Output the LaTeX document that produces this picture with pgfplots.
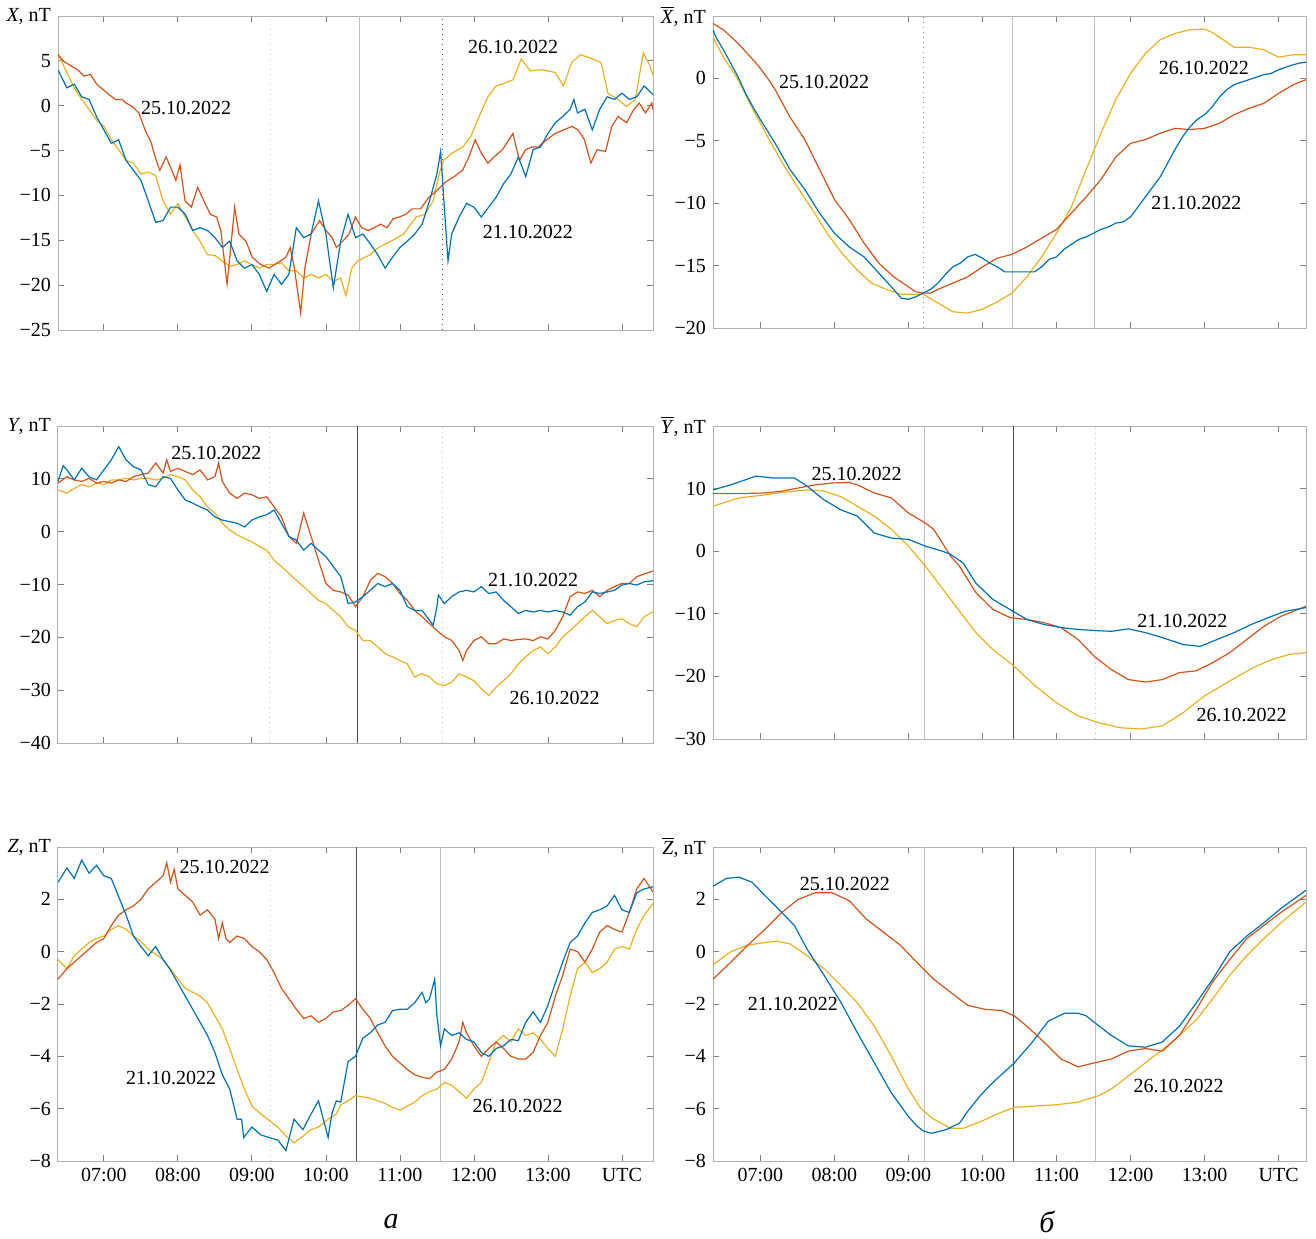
\documentclass[border=0pt]{standalone}
\usepackage{fontspec}
\setmainfont{Liberation Serif}
\usepackage{pgfplots}
\pgfplotsset{compat=1.18}
\definecolor{cB}{rgb}{0,0.447,0.741}
\definecolor{cO}{rgb}{0.85,0.325,0.098}
\definecolor{cY}{rgb}{0.929,0.694,0.125}
\pgfplotsset{
  base/.style={
    scale only axis,
    xtick={7,8,9,10,11,12,13,14},
    xticklabels=\empty,
    tick align=inside,
    major tick length=3pt,
    axis line style={draw=black!30, line width=0.5pt},
    tick style={draw=black!50, line width=0.4pt},
    ticklabel style={font=\fontsize{10}{12}\selectfont, text=black},
    clip=true,
  },
  L/.style={base, xmin=6.38, xmax=14.42, width=297.5pt},
  R/.style={base, xmin=6.36, xmax=14.37, width=296.5pt},
  lastrow/.style={xticklabels={07:00,08:00,09:00,10:00,11:00,12:00,13:00,UTC}},
  dat/.style={line width=0.6pt},
  vl/.style={line width=0.5pt, black!25},
  vd/.style={line width=0.5pt, black!70},
}
\newcommand{\ann}{\fontsize{10}{12}\selectfont}
\newcommand{\ob}[1]{\ensuremath{\overline{\mbox{\textit{#1}}}}}
\begin{document}
\begin{tikzpicture}
%================ LEFT X =================
\begin{axis}[L, at={(29pt,-165pt)}, anchor=south west, height=157pt,
  ymin=-25, ymax=10, ytick={-25,-20,...,10},
  yticklabels={−25,−20,−15,−10,−5,0,5,{\textit{X}, nT}}]
\addplot[vl, dotted] coordinates {(9.25,-25) (9.25,10)};
\addplot[vl] coordinates {(10.45,-25) (10.45,10)};
\addplot[vd, dotted] coordinates {(11.58,-25) (11.58,10)};
\addplot[dat, cY] coordinates {(6.38,5.8) (6.5,3.7) (6.6,2.0) (6.7,0.7) (6.8,-0.4) (6.9,-1.6) (7.0,-2.3) (7.1,-3.8) (7.2,-4.9) (7.3,-6.1) (7.4,-6.4) (7.5,-7.6) (7.6,-7.4) (7.7,-7.8) (7.8,-10.6) (7.9,-12.1) (8.0,-10.9) (8.1,-12.4) (8.2,-13.9) (8.3,-15.1) (8.4,-16.6) (8.5,-16.7) (8.6,-17.3) (8.7,-17.9) (8.8,-17.7) (8.9,-17.3) (9.0,-17.7) (9.1,-18.1) (9.2,-17.7) (9.3,-17.7) (9.4,-17.5) (9.5,-18.4) (9.6,-18.4) (9.7,-19.2) (9.8,-18.8) (9.9,-19.2) (10.0,-18.8) (10.1,-19.6) (10.2,-19.2) (10.27,-21.2) (10.35,-18.1) (10.43,-17.3) (10.60,-16.6) (10.71,-15.8) (10.88,-15.1) (11.05,-14.3) (11.22,-12.4) (11.34,-12.1) (11.45,-10.6) (11.53,-7.6) (11.59,-6.1) (11.70,-5.3) (11.85,-4.6) (11.96,-3.4) (12.07,-1.2) (12.19,1.0) (12.30,2.2) (12.41,2.5) (12.53,2.9) (12.64,5.2) (12.76,3.9) (12.93,4.0) (13.10,3.7) (13.21,2.2) (13.32,4.8) (13.44,5.7) (13.61,5.2) (13.72,4.8) (13.81,1.4) (13.95,0.7) (14.06,-0.1) (14.18,0.7) (14.29,5.9) (14.38,4.4) (14.46,2.5)};
\addplot[dat, cO] coordinates {(6.381,5.7) (6.449,5.0) (6.563,4.4) (6.648,4.0) (6.733,3.3) (6.818,3.5) (6.903,2.4) (6.989,1.8) (7.074,1.2) (7.159,0.7) (7.244,0.7) (7.301,0.3) (7.386,-0.1) (7.472,-0.8) (7.557,-2.7) (7.642,-4.2) (7.699,-5.9) (7.756,-7.2) (7.841,-5.7) (7.898,-6.8) (7.972,-8.3) (8.028,-6.6) (8.097,-10.6) (8.182,-11.3) (8.267,-9.1) (8.352,-10.6) (8.438,-12.1) (8.523,-12.4) (8.580,-13.9) (8.665,-19.9) (8.722,-15.1) (8.767,-11.3) (8.824,-14.3) (8.920,-15.1) (9.006,-16.9) (9.119,-17.7) (9.233,-18.1) (9.347,-17.5) (9.460,-16.9) (9.517,-15.8) (9.574,-18.1) (9.659,-23.1) (9.716,-18.1) (9.801,-14.3) (9.915,-12.8) (10.000,-13.9) (10.085,-14.7) (10.142,-15.8) (10.227,-15.1) (10.313,-14.3) (10.398,-12.4) (10.483,-13.6) (10.568,-13.9) (10.653,-13.6) (10.739,-13.2) (10.824,-13.6) (10.909,-12.6) (10.994,-12.4) (11.080,-12.1) (11.165,-11.5) (11.278,-11.5) (11.392,-10.2) (11.506,-9.4) (11.619,-8.5) (11.733,-7.9) (11.847,-7.2) (11.932,-5.7) (12.017,-3.8) (12.102,-5.3) (12.188,-6.4) (12.273,-5.7) (12.386,-4.9) (12.472,-3.8) (12.528,-3.1) (12.614,-6.1) (12.699,-4.9) (12.784,-4.6) (12.869,-4.6) (12.983,-3.8) (13.097,-3.1) (13.210,-2.7) (13.324,-2.3) (13.409,-2.7) (13.494,-3.8) (13.580,-6.4) (13.665,-4.9) (13.778,-5.1) (13.864,-2.3) (13.949,-1.2) (14.063,-1.9) (14.148,-0.6) (14.233,0.3) (14.318,-0.8) (14.403,0.3) (14.460,-1.9)};
\addplot[dat, cB] coordinates {(6.38,4.0) (6.5,2.0) (6.6,2.4) (6.7,1.0) (6.8,0.7) (6.9,-1.2) (7.0,-2.7) (7.1,-4.2) (7.2,-3.8) (7.3,-6.1) (7.4,-7.2) (7.5,-8.3) (7.6,-10.6) (7.7,-13.0) (7.8,-12.8) (7.9,-11.3) (8.0,-11.3) (8.1,-12.1) (8.2,-13.9) (8.3,-13.6) (8.4,-13.9) (8.5,-14.7) (8.6,-15.8) (8.7,-15.1) (8.8,-17.3) (8.9,-18.1) (9.0,-17.7) (9.1,-18.8) (9.2,-20.7) (9.3,-18.8) (9.4,-19.9) (9.5,-18.8) (9.6,-13.6) (9.7,-14.7) (9.8,-14.3) (9.9,-10.6) (10.0,-14.3) (10.1,-20.3) (10.2,-15.1) (10.3,-12.1) (10.4,-14.7) (10.5,-14.3) (10.6,-15.4) (10.7,-16.6) (10.8,-18.1) (10.9,-16.9) (11.0,-15.8) (11.1,-15.1) (11.2,-14.3) (11.3,-13.2) (11.4,-10.6) (11.5,-7.6) (11.55,-5.1) (11.6,-11.3) (11.65,-17.3) (11.7,-14.3) (11.8,-12.4) (11.9,-10.9) (12.0,-11.3) (12.1,-12.4) (12.2,-11.3) (12.3,-10.2) (12.4,-8.7) (12.5,-7.6) (12.6,-5.7) (12.7,-7.9) (12.8,-4.9) (12.9,-4.6) (13.0,-3.1) (13.1,-1.9) (13.2,-1.2) (13.3,-0.4) (13.35,0.7) (13.4,-0.8) (13.5,-0.4) (13.6,-2.7) (13.7,-0.4) (13.8,1.0) (13.9,0.7) (14.0,1.4) (14.1,0.7) (14.2,1.0) (14.3,2.2) (14.4,1.4) (14.45,1.0)};
\node[font=\ann] at (axis cs:8.11,-0.26) {25.10.2022};
\node[font=\ann] at (axis cs:12.53,6.5) {26.10.2022};
\node[font=\ann] at (axis cs:12.73,-14.1) {21.10.2022};
\end{axis}
%================ LEFT Y =================
\begin{axis}[L, at={(29pt,-371.5pt)}, anchor=south west, height=158.5pt,
  ymin=-40, ymax=20, ytick={-40,-30,...,20},
  yticklabels={−40,−30,−20,−10,0,10,{\textit{Y}, nT}}]
\addplot[vl, dotted] coordinates {(9.24,-40) (9.24,20)};
\addplot[vd] coordinates {(10.43,-40) (10.43,20)};
\addplot[vl, dotted] coordinates {(11.57,-40) (11.57,20)};
\addplot[dat, cY] coordinates {(6.38,7.9) (6.5,7.3) (6.6,8.2) (6.7,8.9) (6.8,8.5) (6.9,9.2) (7.0,8.9) (7.1,9.8) (7.2,9.8) (7.3,10.1) (7.4,9.8) (7.5,10.1) (7.6,10.1) (7.7,9.8) (7.8,10.1) (7.9,10.8) (8.0,10.4) (8.1,9.8) (8.2,7.9) (8.3,6.6) (8.4,4.7) (8.5,3.5) (8.6,1.6) (8.7,0.3) (8.8,-0.6) (8.9,-1.3) (9.0,-1.9) (9.1,-2.8) (9.2,-3.5) (9.3,-5.4) (9.4,-6.6) (9.5,-7.9) (9.6,-9.2) (9.7,-10.4) (9.8,-11.7) (9.9,-13.0) (10.0,-13.6) (10.1,-14.9) (10.2,-16.1) (10.3,-18.0) (10.4,-18.7) (10.5,-20.6) (10.6,-20.6) (10.7,-21.8) (10.8,-23.1) (10.9,-23.7) (11.0,-24.4) (11.1,-25.0) (11.2,-27.5) (11.3,-26.9) (11.4,-27.5) (11.5,-28.8) (11.6,-29.1) (11.7,-28.5) (11.8,-26.9) (11.9,-27.5) (12.0,-28.2) (12.1,-29.7) (12.2,-31.0) (12.3,-29.4) (12.4,-28.2) (12.5,-26.9) (12.6,-25.0) (12.7,-23.7) (12.8,-22.5) (12.9,-21.8) (13.0,-23.1) (13.1,-21.8) (13.2,-19.9) (13.3,-18.7) (13.4,-17.4) (13.5,-16.1) (13.6,-14.9) (13.7,-16.1) (13.8,-17.4) (13.9,-16.8) (14.0,-16.5) (14.1,-17.4) (14.2,-18.0) (14.3,-16.1) (14.45,-14.9)};
\addplot[dat, cO] coordinates {(6.38,9.2) (6.5,10.4) (6.6,9.8) (6.7,9.5) (6.8,10.1) (6.9,9.2) (7.0,9.5) (7.1,9.2) (7.2,9.8) (7.3,9.5) (7.4,10.4) (7.5,10.8) (7.6,11.1) (7.7,13.0) (7.8,11.1) (7.85,13.6) (7.9,11.4) (8.0,12.0) (8.1,11.4) (8.2,10.8) (8.3,11.7) (8.4,9.8) (8.5,10.4) (8.55,13.0) (8.6,9.5) (8.7,7.3) (8.8,6.3) (8.9,7.3) (9.0,7.0) (9.1,6.3) (9.2,6.6) (9.3,4.7) (9.4,2.8) (9.5,-0.9) (9.6,-2.2) (9.7,3.5) (9.8,-0.9) (9.9,-5.4) (10.0,-9.8) (10.1,-11.1) (10.2,-11.4) (10.3,-12.0) (10.4,-14.2) (10.5,-12.3) (10.6,-9.2) (10.7,-7.9) (10.8,-8.5) (10.9,-9.8) (11.0,-11.7) (11.1,-13.0) (11.2,-14.9) (11.3,-16.1) (11.4,-17.4) (11.5,-18.7) (11.6,-19.9) (11.7,-20.6) (11.8,-22.5) (11.85,-24.4) (11.9,-22.5) (12.0,-20.6) (12.1,-19.9) (12.2,-21.2) (12.3,-21.2) (12.4,-20.3) (12.5,-20.6) (12.6,-20.4) (12.7,-20.3) (12.8,-20.6) (12.9,-19.9) (13.0,-20.3) (13.1,-18.7) (13.2,-16.1) (13.3,-12.3) (13.4,-11.4) (13.5,-11.7) (13.6,-11.1) (13.7,-12.3) (13.8,-11.1) (13.9,-10.4) (14.0,-9.8) (14.1,-9.8) (14.2,-8.5) (14.45,-7.3)};
\addplot[dat, cB] coordinates {(6.38,9.5) (6.45,12.5) (6.5,11.7) (6.6,9.8) (6.7,12.0) (6.8,10.4) (6.9,9.8) (7.0,11.7) (7.1,13.6) (7.2,16.1) (7.3,13.6) (7.4,12.3) (7.5,11.7) (7.6,8.9) (7.7,8.5) (7.8,10.4) (7.9,10.1) (8.0,7.9) (8.1,6.0) (8.2,5.4) (8.3,4.7) (8.4,4.1) (8.5,2.8) (8.6,2.2) (8.7,1.9) (8.8,1.6) (8.9,0.9) (9.0,2.2) (9.1,2.8) (9.2,3.2) (9.3,4.1) (9.4,1.6) (9.5,-0.9) (9.6,-1.6) (9.7,-3.5) (9.8,-2.2) (9.9,-3.5) (10.0,-4.7) (10.1,-6.6) (10.2,-8.5) (10.3,-13.6) (10.4,-13.3) (10.5,-12.3) (10.6,-11.1) (10.7,-9.8) (10.8,-10.4) (10.9,-9.8) (11.0,-11.1) (11.1,-14.2) (11.2,-14.9) (11.3,-14.9) (11.4,-16.8) (11.45,-17.7) (11.5,-14.2) (11.52,-12.0) (11.6,-13.6) (11.7,-12.3) (11.8,-11.4) (11.9,-11.1) (12.0,-11.4) (12.1,-10.4) (12.2,-11.7) (12.3,-11.4) (12.4,-13.0) (12.5,-14.2) (12.6,-15.5) (12.7,-14.9) (12.8,-15.2) (12.9,-14.9) (13.0,-15.2) (13.1,-14.9) (13.2,-15.2) (13.3,-15.8) (13.4,-14.2) (13.5,-13.3) (13.6,-11.4) (13.7,-11.7) (13.8,-11.4) (13.9,-11.1) (14.0,-10.1) (14.1,-9.8) (14.2,-10.1) (14.3,-9.5) (14.45,-9.2)};
\node[font=\ann] at (axis cs:8.52,14.9) {25.10.2022};
\node[font=\ann] at (axis cs:12.8,-9.05) {21.10.2022};
\node[font=\ann] at (axis cs:13.09,-31.5) {26.10.2022};
\end{axis}
%================ LEFT Z =================
\begin{axis}[L, lastrow, at={(29pt,-580.5pt)}, anchor=south west, height=157pt,
  ymin=-8, ymax=4, ytick={-8,-6,...,4},
  yticklabels={−8,−6,−4,−2,0,2,{\textit{Z}, nT}}]
\addplot[vl, dotted] coordinates {(9.25,-8) (9.25,4)};
\addplot[vd] coordinates {(10.41,-8) (10.41,4)};
\addplot[vl] coordinates {(11.55,-8) (11.55,4)};
\addplot[dat, cY] coordinates {(6.38,-0.3) (6.5,-0.65) (6.6,-0.15) (6.7,0.1) (6.8,0.35) (6.9,0.5) (7.0,0.6) (7.1,0.85) (7.2,1.0) (7.3,0.85) (7.4,0.6) (7.5,0.4) (7.6,0.1) (7.7,-0.1) (7.8,-0.3) (7.9,-0.65) (8.0,-1.05) (8.1,-1.4) (8.2,-1.55) (8.3,-1.7) (8.4,-1.95) (8.5,-2.45) (8.6,-2.95) (8.7,-3.7) (8.8,-4.5) (8.9,-5.25) (9.0,-5.9) (9.12,-6.2) (9.35,-6.7) (9.46,-7.05) (9.57,-7.3) (9.69,-7.05) (9.8,-6.8) (9.9,-6.7) (10.03,-6.4) (10.14,-6.2) (10.2,-5.85) (10.3,-5.7) (10.4,-5.5) (10.5,-5.55) (10.6,-5.6) (10.7,-5.7) (10.8,-5.8) (10.9,-5.95) (11.0,-6.05) (11.1,-5.9) (11.2,-5.75) (11.3,-5.5) (11.4,-5.35) (11.5,-5.25) (11.6,-5.0) (11.7,-5.1) (11.8,-5.35) (11.9,-5.6) (12.0,-5.25) (12.1,-5.0) (12.2,-4.25) (12.3,-3.45) (12.4,-3.2) (12.5,-3.45) (12.6,-2.95) (12.7,-3.2) (12.8,-3.1) (12.9,-3.35) (13.0,-3.7) (13.1,-4.0) (13.2,-2.95) (13.3,-1.7) (13.4,-0.65) (13.5,-0.4) (13.6,-0.8) (13.7,-0.65) (13.8,-0.4) (13.9,0.1) (14.0,0.2) (14.1,0.1) (14.2,0.85) (14.3,1.4) (14.45,1.95)};
\addplot[dat, cO] coordinates {(6.38,-1.05) (6.5,-0.65) (6.6,-0.4) (6.7,-0.15) (6.8,0.1) (6.9,0.35) (7.0,0.5) (7.1,1.0) (7.2,1.4) (7.3,1.6) (7.4,1.75) (7.5,2.0) (7.6,2.4) (7.7,2.65) (7.8,2.9) (7.85,3.4) (7.9,2.65) (7.95,3.15) (8.0,2.4) (8.1,2.15) (8.2,1.9) (8.3,1.4) (8.4,1.6) (8.5,1.25) (8.55,0.5) (8.6,1.1) (8.65,0.5) (8.7,0.35) (8.8,0.6) (8.9,0.5) (9.0,0.2) (9.1,0.0) (9.2,-0.3) (9.3,-0.8) (9.4,-1.4) (9.5,-1.8) (9.6,-2.2) (9.7,-2.55) (9.8,-2.45) (9.9,-2.7) (10.0,-2.55) (10.1,-2.3) (10.2,-2.25) (10.3,-2.05) (10.4,-1.8) (10.5,-2.2) (10.6,-2.55) (10.7,-3.1) (10.8,-3.6) (10.9,-4.0) (11.0,-4.25) (11.1,-4.5) (11.2,-4.7) (11.3,-4.8) (11.4,-4.85) (11.5,-4.6) (11.6,-4.5) (11.7,-4.1) (11.8,-3.45) (11.85,-2.7) (11.9,-3.1) (12.0,-3.6) (12.1,-4.0) (12.2,-3.7) (12.3,-3.45) (12.4,-3.7) (12.5,-4.0) (12.6,-4.1) (12.7,-4.1) (12.8,-3.85) (12.9,-3.2) (13.0,-2.7) (13.1,-1.7) (13.2,-0.9) (13.3,0.1) (13.4,0.0) (13.5,-0.4) (13.6,0.1) (13.7,0.75) (13.8,1.0) (13.9,0.85) (14.0,0.75) (14.1,1.5) (14.2,2.4) (14.3,2.8) (14.45,2.15)};
\addplot[dat, cB] coordinates {(6.38,2.65) (6.5,3.2) (6.6,2.8) (6.7,3.5) (6.8,3.0) (6.9,3.3) (7.0,2.9) (7.1,2.8) (7.2,2.1) (7.3,1.4) (7.4,0.6) (7.5,0.2) (7.6,-0.15) (7.7,0.2) (7.8,-0.3) (7.9,-0.7) (8.0,-1.2) (8.1,-1.7) (8.2,-2.2) (8.3,-2.7) (8.4,-3.2) (8.5,-3.85) (8.6,-4.7) (8.7,-5.25) (8.8,-6.4) (8.86,-6.4) (8.89,-7.1) (9.0,-6.7) (9.12,-7.0) (9.23,-7.1) (9.35,-7.2) (9.46,-7.6) (9.57,-6.4) (9.69,-6.8) (9.8,-6.2) (9.9,-5.7) (10.03,-7.1) (10.08,-6.2) (10.14,-5.7) (10.2,-5.75) (10.3,-4.2) (10.4,-4.0) (10.5,-3.3) (10.6,-3.1) (10.7,-2.8) (10.8,-2.7) (10.9,-2.25) (11.0,-2.2) (11.1,-2.2) (11.2,-1.95) (11.3,-1.55) (11.35,-1.95) (11.4,-1.8) (11.47,-1.05) (11.5,-2.45) (11.55,-3.6) (11.6,-2.95) (11.7,-3.2) (11.8,-3.1) (11.9,-3.35) (12.0,-3.45) (12.1,-3.85) (12.2,-4.0) (12.3,-3.7) (12.4,-3.6) (12.5,-3.35) (12.6,-3.4) (12.7,-2.7) (12.8,-2.3) (12.9,-2.7) (13.0,-2.05) (13.1,-1.2) (13.2,-0.4) (13.3,0.35) (13.4,0.6) (13.5,1.1) (13.6,1.5) (13.7,1.6) (13.8,1.75) (13.9,2.15) (14.0,1.6) (14.1,1.5) (14.2,2.25) (14.3,2.4) (14.45,2.5)};
\node[font=\ann] at (axis cs:8.63,3.22) {25.10.2022};
\node[font=\ann] at (axis cs:7.91,-4.84) {21.10.2022};
\node[font=\ann] at (axis cs:12.59,-5.9) {26.10.2022};
\end{axis}
%================ RIGHT X =================
\begin{axis}[R, at={(356.5pt,-164pt)}, anchor=south west, height=156pt,
  ymin=-20, ymax=5, ytick={-20,-15,...,5},
  yticklabels={−20,−15,−10,−5,0,{\ob{X}, nT}}]
\addplot[vl, dotted, black!45] coordinates {(9.2,-20) (9.2,5)};
\addplot[vl] coordinates {(10.4,-20) (10.4,5)};
\addplot[vl] coordinates {(11.51,-20) (11.51,5)};
\addplot[dat, cY] coordinates {(6.36,3.3) (6.5,1.7) (6.7,-0.1) (6.9,-2.5) (7.1,-4.7) (7.3,-6.8) (7.5,-8.7) (7.7,-10.5) (7.9,-12.4) (8.1,-14.0) (8.3,-15.3) (8.5,-16.4) (8.7,-16.9) (8.9,-17.3) (9.1,-17.3) (9.2,-17.3) (9.4,-18.0) (9.6,-18.7) (9.8,-18.8) (10.0,-18.5) (10.2,-17.9) (10.4,-17.2) (10.6,-15.9) (10.8,-14.3) (11.0,-12.4) (11.2,-10.3) (11.4,-7.3) (11.6,-4.4) (11.8,-1.7) (12.0,0.4) (12.2,2.0) (12.4,3.1) (12.6,3.6) (12.8,3.9) (13.0,3.95) (13.1,3.7) (13.2,3.3) (13.4,2.5) (13.6,2.5) (13.8,2.3) (14.0,1.7) (14.2,1.9) (14.37,1.9)};
\addplot[dat, cO] coordinates {(6.36,4.4) (6.5,3.9) (6.7,2.8) (6.9,1.5) (7.0,0.8) (7.1,0.0) (7.2,-0.9) (7.4,-3.1) (7.6,-4.9) (7.8,-7.3) (8.0,-9.7) (8.2,-11.3) (8.4,-13.2) (8.6,-14.8) (8.8,-15.9) (9.0,-16.7) (9.1,-17.1) (9.2,-17.2) (9.3,-17.2) (9.4,-16.9) (9.6,-16.4) (9.8,-15.9) (10.0,-15.1) (10.2,-14.4) (10.4,-14.1) (10.6,-13.5) (10.8,-12.8) (11.0,-12.1) (11.2,-10.8) (11.4,-9.5) (11.6,-8.1) (11.8,-6.3) (12.0,-5.2) (12.2,-4.9) (12.4,-4.4) (12.6,-4.0) (12.8,-4.1) (13.0,-4.0) (13.2,-3.6) (13.4,-2.9) (13.6,-2.4) (13.8,-2.0) (14.0,-1.2) (14.2,-0.5) (14.37,-0.1)};
\addplot[dat, cB] coordinates {(6.36,3.9) (6.4,3.3) (6.5,2.3) (6.6,1.2) (6.7,0.1) (6.8,-1.2) (6.9,-2.3) (7.0,-3.3) (7.2,-5.2) (7.4,-7.3) (7.6,-8.9) (7.8,-10.8) (8.0,-12.4) (8.2,-13.5) (8.4,-14.3) (8.6,-15.6) (8.8,-16.9) (8.9,-17.6) (9.0,-17.7) (9.1,-17.5) (9.2,-17.2) (9.3,-16.9) (9.4,-16.4) (9.5,-15.7) (9.6,-15.1) (9.7,-14.8) (9.8,-14.3) (9.9,-14.1) (10.0,-14.4) (10.1,-14.8) (10.2,-15.1) (10.3,-15.5) (10.5,-15.5) (10.7,-15.5) (10.8,-15.1) (10.9,-14.5) (11.0,-14.3) (11.1,-13.7) (11.2,-13.3) (11.3,-12.9) (11.4,-12.7) (11.5,-12.4) (11.6,-12.1) (11.7,-11.9) (11.8,-11.6) (11.9,-11.5) (12.0,-11.1) (12.1,-10.3) (12.2,-9.5) (12.3,-8.7) (12.4,-7.9) (12.5,-6.8) (12.6,-5.7) (12.7,-4.7) (12.8,-3.9) (12.9,-3.3) (13.0,-2.9) (13.1,-2.3) (13.2,-1.5) (13.3,-0.9) (13.4,-0.5) (13.5,-0.3) (13.6,-0.1) (13.7,0.1) (13.8,0.3) (13.9,0.4) (14.0,0.7) (14.1,0.9) (14.2,1.1) (14.3,1.25) (14.37,1.3)};
\node[font=\ann] at (axis cs:7.86,-0.27) {25.10.2022};
\node[font=\ann] at (axis cs:12.99,0.8) {26.10.2022};
\node[font=\ann] at (axis cs:12.89,-10.0) {21.10.2022};
\end{axis}
%================ RIGHT Y =================
\begin{axis}[R, at={(356.5pt,-369.5pt)}, anchor=south west, height=156.5pt,
  ymin=-30, ymax=20, ytick={-30,-20,...,20},
  yticklabels={−30,−20,−10,0,10,{\ob{Y}, nT}}]
\addplot[vl] coordinates {(9.21,-30) (9.21,20)};
\addplot[vd] coordinates {(10.42,-30) (10.42,20)};
\addplot[vl, dotted] coordinates {(11.53,-30) (11.53,20)};
\addplot[dat, cY] coordinates {(6.36,7.2) (6.71,8.5) (7.06,9.0) (7.29,9.4) (7.63,9.8) (7.86,9.6) (8.09,8.7) (8.31,7.2) (8.54,5.6) (8.77,3.5) (9.0,0.8) (9.23,-2.4) (9.57,-7.7) (9.91,-13.0) (10.14,-15.7) (10.43,-18.4) (10.71,-21.5) (11.0,-24.2) (11.29,-26.3) (11.57,-27.4) (11.86,-28.2) (12.14,-28.4) (12.43,-27.9) (12.71,-25.8) (13.0,-23.1) (13.23,-21.5) (13.46,-19.9) (13.69,-18.4) (13.91,-17.3) (14.14,-16.5) (14.37,-16.2)};
\addplot[dat, cO] coordinates {(6.36,9.2) (6.71,9.2) (7.06,9.3) (7.29,9.6) (7.51,10.1) (7.74,10.6) (7.97,10.9) (8.20,11.0) (8.31,10.6) (8.54,9.3) (8.77,8.5) (9.0,6.1) (9.23,4.5) (9.34,3.5) (9.46,1.3) (9.57,-0.8) (9.69,-2.4) (9.91,-6.6) (10.14,-9.3) (10.37,-10.6) (10.60,-10.9) (10.83,-11.4) (11.06,-12.2) (11.29,-14.1) (11.51,-16.8) (11.74,-18.9) (11.97,-20.5) (12.20,-20.9) (12.43,-20.5) (12.66,-19.4) (12.89,-19.1) (13.11,-17.8) (13.34,-16.2) (13.57,-14.1) (13.80,-12.0) (14.03,-10.4) (14.37,-8.8)};
\addplot[dat, cB] coordinates {(6.36,9.8) (6.60,10.6) (6.94,12.0) (7.17,11.7) (7.46,11.7) (7.63,10.4) (7.86,8.2) (8.09,6.6) (8.31,5.6) (8.54,2.9) (8.77,2.1) (9.0,1.9) (9.23,0.8) (9.46,0.0) (9.57,-0.5) (9.74,-1.9) (9.91,-5.1) (10.14,-7.7) (10.37,-9.3) (10.60,-10.9) (10.83,-11.7) (11.06,-12.2) (11.29,-12.5) (11.57,-12.7) (11.74,-12.8) (11.97,-12.4) (12.20,-13.0) (12.43,-13.8) (12.71,-14.9) (12.94,-15.2) (13.17,-14.1) (13.40,-13.0) (13.63,-11.7) (13.86,-10.6) (14.09,-9.6) (14.37,-9.0)};
\node[font=\ann] at (axis cs:8.3,12.3) {25.10.2022};
\node[font=\ann] at (axis cs:12.7,-11.2) {21.10.2022};
\node[font=\ann] at (axis cs:13.5,-26.1) {26.10.2022};
\end{axis}
%================ RIGHT Z =================
\begin{axis}[R, lastrow, at={(356.5pt,-580.5pt)}, anchor=south west, height=157pt,
  ymin=-8, ymax=4, ytick={-8,-6,...,4},
  yticklabels={−8,−6,−4,−2,0,2,{\ob{Z}, nT}}]
\addplot[vl] coordinates {(9.21,-8) (9.21,4)};
\addplot[vd] coordinates {(10.42,-8) (10.42,4)};
\addplot[vl] coordinates {(11.53,-8) (11.53,4)};
\addplot[dat, cY] coordinates {(6.36,-0.5) (6.60,0.0) (6.83,0.25) (7.06,0.35) (7.23,0.4) (7.40,0.3) (7.63,-0.15) (7.86,-0.65) (8.09,-1.3) (8.31,-1.95) (8.54,-2.85) (8.77,-4.0) (9.0,-5.25) (9.17,-6.0) (9.34,-6.4) (9.57,-6.75) (9.74,-6.75) (9.97,-6.5) (10.2,-6.2) (10.43,-5.95) (10.71,-5.9) (11.0,-5.85) (11.29,-5.75) (11.57,-5.5) (11.74,-5.25) (11.97,-4.75) (12.20,-4.25) (12.43,-3.75) (12.66,-3.2) (12.89,-2.6) (13.11,-1.8) (13.34,-0.9) (13.57,-0.15) (13.80,0.5) (14.03,1.1) (14.37,1.9)};
\addplot[dat, cO] coordinates {(6.36,-1.05) (6.60,-0.4) (6.83,0.25) (7.06,0.85) (7.29,1.5) (7.51,2.0) (7.74,2.25) (7.97,2.25) (8.20,1.95) (8.43,1.25) (8.66,0.75) (8.89,0.25) (9.11,-0.4) (9.34,-1.05) (9.57,-1.55) (9.80,-2.05) (10.03,-2.2) (10.26,-2.25) (10.43,-2.45) (10.60,-2.85) (10.83,-3.45) (11.06,-4.1) (11.29,-4.4) (11.51,-4.25) (11.74,-4.1) (11.97,-3.8) (12.20,-3.7) (12.43,-3.8) (12.66,-3.2) (12.89,-2.2) (13.11,-1.15) (13.34,-0.3) (13.57,0.5) (13.80,1.0) (14.03,1.5) (14.37,2.15)};
\addplot[dat, cB] coordinates {(6.36,2.5) (6.54,2.8) (6.71,2.85) (6.89,2.65) (7.06,2.15) (7.29,1.5) (7.46,1.0) (7.63,0.1) (7.86,-0.9) (8.09,-1.95) (8.31,-3.1) (8.54,-4.25) (8.77,-5.4) (9.0,-6.3) (9.11,-6.65) (9.2,-6.85) (9.31,-6.94) (9.51,-6.8) (9.69,-6.55) (9.80,-6.1) (9.97,-5.5) (10.14,-5.0) (10.43,-4.25) (10.66,-3.5) (10.89,-2.65) (11.11,-2.35) (11.29,-2.35) (11.40,-2.45) (11.51,-2.7) (11.74,-3.2) (11.97,-3.6) (12.20,-3.65) (12.43,-3.45) (12.66,-2.85) (12.89,-1.95) (13.11,-1.05) (13.34,0.0) (13.57,0.6) (13.80,1.1) (14.03,1.65) (14.37,2.35)};
\node[font=\ann] at (axis cs:8.14,2.6) {25.10.2022};
\node[font=\ann] at (axis cs:7.44,-2.0) {21.10.2022};
\node[font=\ann] at (axis cs:12.65,-5.13) {26.10.2022};
\end{axis}
\node[font=\fontsize{15}{18}\selectfont\itshape] at (195.5pt,-611pt) {а};
\node[font=\fontsize{15}{18}\selectfont\itshape] at (523.5pt,-611pt) {б};
\pgfresetboundingbox
\useasboundingbox (0,0) rectangle (658pt,-619pt);
\end{tikzpicture}
\end{document}
